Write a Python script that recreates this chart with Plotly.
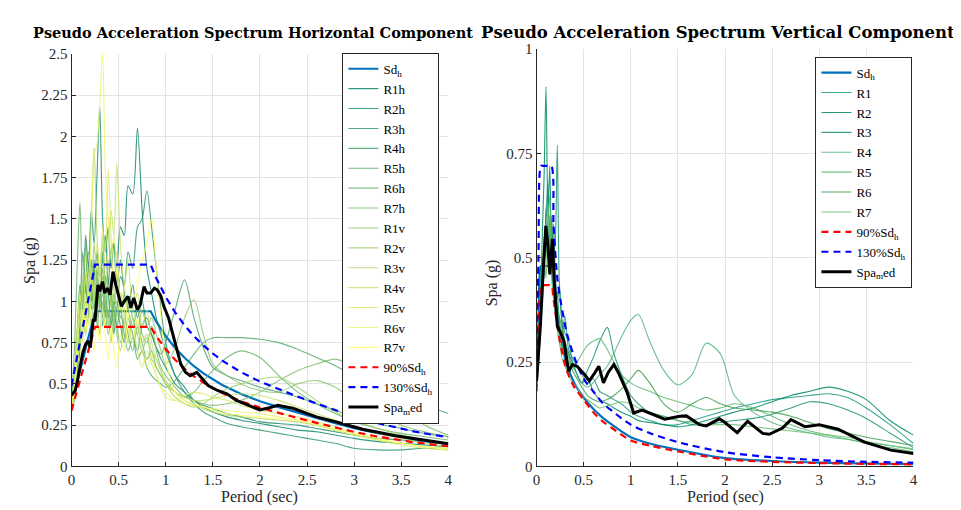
import plotly.graph_objects as go

# ---------------- LEFT: horizontal component ----------------
T_L = [0, 0.03, 0.06, 0.09, 0.12, 0.15, 0.18, 0.21, 0.24, 0.27, 0.30, 0.33, 0.36, 0.39, 0.42,
       0.45, 0.48, 0.52, 0.56, 0.60, 0.65, 0.70, 0.75, 0.80, 0.85, 0.90, 0.95, 1.0, 1.1, 1.2,
       1.3, 1.4, 1.5, 1.65, 1.8, 2.0, 2.2, 2.4, 2.6, 2.8, 3.0, 3.25, 3.5, 3.75, 4.0]

R1h = [0.40, 0.45, 0.60, 0.85, 0.95, 1.10, 0.90, 1.20, 1.05, 1.30, 1.15, 1.25, 1.40, 1.10, 1.30,
       1.35, 1.20, 1.45, 1.40, 1.70, 1.65, 2.05, 1.55, 1.20, 1.05, 0.90, 0.80, 0.70, 0.55, 0.48,
       0.40, 0.36, 0.33, 0.30, 0.28, 0.26, 0.24, 0.22, 0.21, 0.19, 0.17, 0.15, 0.14, 0.13, 0.12]
R2h = [0.38, 0.42, 0.75, 1.10, 0.95, 1.40, 1.20, 1.55, 1.35, 1.75, 2.18, 1.50, 1.30, 1.45, 1.20,
       1.35, 1.10, 1.25, 1.05, 0.95, 1.10, 0.90, 1.00, 0.85, 0.80, 0.72, 0.65, 0.60, 0.50, 0.45,
       0.40, 0.37, 0.35, 0.32, 0.30, 0.27, 0.26, 0.25, 0.23, 0.21, 0.19, 0.17, 0.16, 0.15, 0.14]
R3h = [0.36, 0.40, 0.55, 0.70, 0.90, 0.80, 1.05, 0.95, 1.20, 1.00, 1.10, 0.90, 1.15, 1.05, 0.85,
       1.00, 0.95, 1.15, 1.10, 1.30, 1.20, 1.45, 1.50, 1.67, 1.45, 1.20, 0.95, 0.75, 0.55, 0.45,
       0.38, 0.33, 0.30, 0.26, 0.24, 0.22, 0.20, 0.18, 0.16, 0.14, 0.11, 0.10, 0.10, 0.11, 0.10]
R4h = [0.42, 0.50, 0.70, 0.95, 1.30, 1.05, 1.20, 1.00, 1.25, 0.95, 1.10, 0.85, 1.00, 0.90, 1.05,
       0.80, 0.95, 0.85, 0.75, 0.90, 0.80, 0.70, 0.85, 0.90, 0.80, 0.72, 0.68, 0.75, 0.95, 1.13,
       0.90, 0.72, 0.60, 0.55, 0.52, 0.48, 0.45, 0.42, 0.38, 0.34, 0.30, 0.26, 0.23, 0.20, 0.18]
R5h = [0.45, 0.55, 0.80, 1.00, 0.85, 1.15, 1.30, 1.10, 0.95, 1.20, 1.00, 1.30, 1.10, 0.90, 1.05,
       0.95, 0.85, 0.95, 0.80, 0.70, 0.78, 0.65, 0.70, 0.60, 0.55, 0.52, 0.50, 0.48, 0.52, 0.60,
       0.68, 0.75, 0.78, 0.78, 0.78, 0.77, 0.75, 0.71, 0.66, 0.61, 0.55, 0.48, 0.42, 0.37, 0.32]
R6h = [0.40, 0.70, 1.20, 1.60, 1.00, 1.35, 0.90, 1.25, 1.05, 0.85, 1.00, 1.20, 0.95, 0.80, 0.90,
       1.05, 0.85, 0.75, 0.90, 0.80, 0.70, 0.85, 0.75, 0.65, 0.70, 0.60, 0.55, 0.50, 0.45, 0.42,
       0.45, 0.52, 0.58, 0.66, 0.70, 0.66, 0.55, 0.45, 0.38, 0.32, 0.27, 0.23, 0.20, 0.18, 0.16]
R7h = [0.38, 0.45, 0.65, 0.80, 1.00, 0.90, 1.10, 1.25, 1.00, 1.15, 0.95, 1.05, 0.90, 1.10, 1.00,
       0.85, 1.00, 0.90, 1.05, 0.95, 0.85, 0.95, 0.80, 0.75, 0.85, 0.70, 0.60, 0.55, 0.48, 0.42,
       0.40, 0.38, 0.37, 0.38, 0.40, 0.45, 0.52, 0.58, 0.62, 0.65, 0.60, 0.48, 0.35, 0.25, 0.19]
R1v = [0.43, 0.55, 0.80, 1.10, 0.90, 1.15, 0.95, 1.05, 1.35, 1.10, 0.95, 1.15, 1.00, 0.85, 1.05,
       0.90, 1.10, 0.95, 0.85, 1.00, 0.90, 0.80, 0.95, 0.85, 0.90, 0.80, 0.70, 0.62, 0.72, 0.90,
       1.01, 0.80, 0.62, 0.55, 0.50, 0.46, 0.45, 0.50, 0.52, 0.48, 0.40, 0.32, 0.25, 0.21, 0.18]
R2v = [0.35, 0.42, 0.60, 0.75, 0.90, 0.80, 1.00, 0.85, 1.10, 0.95, 0.80, 1.00, 0.85, 0.95, 0.75,
       0.90, 0.80, 0.70, 0.85, 0.75, 0.90, 0.80, 0.70, 0.78, 0.65, 0.60, 0.55, 0.50, 0.42, 0.38,
       0.36, 0.38, 0.42, 0.47, 0.50, 0.53, 0.54, 0.48, 0.40, 0.33, 0.28, 0.23, 0.19, 0.16, 0.14]
R3v = [0.40, 0.50, 0.85, 0.70, 1.10, 1.30, 1.15, 1.50, 1.93, 1.40, 1.20, 1.35, 1.05, 1.25, 0.95,
       1.10, 0.90, 1.05, 0.95, 0.80, 0.95, 0.85, 0.75, 0.80, 0.70, 0.65, 0.58, 0.52, 0.45, 0.40,
       0.37, 0.35, 0.33, 0.31, 0.30, 0.29, 0.28, 0.27, 0.25, 0.22, 0.19, 0.16, 0.14, 0.12, 0.11]
R4v = [0.37, 0.45, 0.70, 0.95, 0.80, 1.00, 0.90, 1.15, 1.00, 1.25, 1.10, 1.40, 1.20, 1.35, 1.55,
       1.40, 1.83, 1.35, 1.10, 1.25, 0.95, 1.05, 0.85, 0.95, 0.75, 0.65, 0.58, 0.50, 0.45, 0.42,
       0.40, 0.40, 0.41, 0.43, 0.44, 0.43, 0.40, 0.36, 0.32, 0.28, 0.24, 0.20, 0.17, 0.14, 0.12]
R5v = [0.34, 0.40, 0.65, 0.90, 0.75, 1.05, 0.85, 1.20, 1.05, 1.35, 1.15, 1.45, 1.30, 1.80, 1.40,
       1.10, 1.30, 1.00, 0.90, 0.75, 0.85, 0.70, 0.60, 0.70, 0.62, 0.55, 0.48, 0.42, 0.40, 0.43,
       0.45, 0.44, 0.42, 0.40, 0.37, 0.34, 0.32, 0.30, 0.27, 0.24, 0.20, 0.16, 0.13, 0.11, 0.10]
R6v = [0.36, 0.45, 0.75, 1.05, 0.85, 1.20, 1.00, 1.39, 1.89, 1.95, 2.20, 2.50, 1.77, 1.50, 1.25,
       1.40, 1.15, 0.95, 1.10, 0.85, 0.75, 0.90, 0.70, 0.60, 0.68, 0.55, 0.48, 0.45, 0.40, 0.38,
       0.37, 0.36, 0.35, 0.34, 0.33, 0.32, 0.30, 0.28, 0.25, 0.22, 0.19, 0.16, 0.14, 0.12, 0.11]
R7v = [0.39, 0.48, 0.72, 0.60, 0.95, 0.80, 1.05, 0.90, 0.70, 0.85, 0.75, 0.95, 0.80, 0.65, 0.85,
       0.70, 0.60, 0.80, 0.70, 0.90, 1.00, 1.10, 1.25, 1.35, 1.50, 1.20, 0.90, 0.65, 0.45, 0.40,
       0.38, 0.36, 0.34, 0.32, 0.31, 0.30, 0.29, 0.28, 0.26, 0.23, 0.20, 0.17, 0.14, 0.12, 0.10]

T_DH = [0, 0.25, 0.84, 0.9, 1.0, 1.1, 1.2, 1.3, 1.4, 1.5, 1.6, 1.8, 2.0, 2.2, 2.4, 2.6, 2.8,
        3.0, 3.2, 3.4, 3.6, 3.8, 4.0]
Sd_h = [0.376, 0.94, 0.94, 0.877, 0.79, 0.718, 0.658, 0.607, 0.564, 0.526, 0.493, 0.439, 0.395,
        0.359, 0.325, 0.293, 0.262, 0.232, 0.207, 0.185, 0.166, 0.15, 0.136]
Sd_h90 = [0.338, 0.846, 0.846, 0.789, 0.711, 0.646, 0.592, 0.546, 0.508, 0.473, 0.444, 0.395,
          0.356, 0.323, 0.293, 0.264, 0.236, 0.209, 0.186, 0.167, 0.149, 0.135, 0.122]
Sd_h130 = [0.489, 1.222, 1.222, 1.14, 1.027, 0.933, 0.855, 0.789, 0.733, 0.684, 0.641, 0.571,
           0.514, 0.467, 0.423, 0.381, 0.341, 0.302, 0.269, 0.241, 0.216, 0.195, 0.177]

T_MH = [0, 0.04, 0.07, 0.1, 0.12, 0.15, 0.175, 0.2, 0.23, 0.25, 0.28, 0.3, 0.33, 0.35, 0.38,
        0.41, 0.44, 0.47, 0.5, 0.53, 0.56, 0.6, 0.63, 0.66, 0.7, 0.73, 0.77, 0.8, 0.84, 0.88,
        0.91, 0.95, 0.98, 1.03, 1.09, 1.16, 1.21, 1.26, 1.33, 1.45, 1.55, 1.65, 1.75, 1.88, 2.0,
        2.1, 2.19, 2.35, 2.6, 2.81, 3.09, 3.44, 3.65, 3.85, 4.0]
Spa_med_h = [0.43, 0.46, 0.54, 0.62, 0.69, 0.74, 0.76, 0.72, 0.89, 0.88, 1.10, 1.06, 1.12, 1.05,
             1.08, 1.04, 1.18, 1.10, 1.04, 0.97, 1.00, 1.03, 0.96, 1.02, 0.95, 0.98, 1.09, 1.05,
             1.05, 1.08, 1.07, 1.03, 0.97, 0.90, 0.77, 0.62, 0.57, 0.55, 0.57, 0.49, 0.46, 0.44,
             0.40, 0.37, 0.342, 0.355, 0.37, 0.352, 0.30, 0.27, 0.225, 0.186, 0.166, 0.15, 0.137]

# ---------------- RIGHT: vertical component ----------------
T_R = [0, 0.02, 0.04, 0.06, 0.08, 0.10, 0.12, 0.14, 0.16, 0.18, 0.20, 0.22, 0.24, 0.27, 0.30,
       0.34, 0.38, 0.43, 0.48, 0.54, 0.60, 0.67, 0.75, 0.82, 0.90, 1.0, 1.08, 1.2, 1.35, 1.5,
       1.65, 1.8, 1.95, 2.1, 2.3, 2.5, 2.7, 2.9, 3.1, 3.3, 3.5, 3.75, 4.0]
R1 = [0.21, 0.26, 0.35, 0.45, 0.52, 0.60, 0.68, 0.50, 0.55, 0.45, 0.40, 0.42, 0.35, 0.32, 0.36,
      0.28, 0.26, 0.24, 0.22, 0.20, 0.21, 0.18, 0.17, 0.16, 0.15, 0.13, 0.12, 0.11, 0.10, 0.10,
      0.11, 0.12, 0.13, 0.14, 0.15, 0.16, 0.165, 0.17, 0.174, 0.165, 0.14, 0.10, 0.055]
R2 = [0.20, 0.28, 0.40, 0.55, 0.70, 0.91, 0.60, 0.72, 0.50, 0.58, 0.45, 0.40, 0.43, 0.34, 0.30,
      0.27, 0.25, 0.22, 0.20, 0.21, 0.18, 0.16, 0.15, 0.14, 0.13, 0.12, 0.11, 0.105, 0.10, 0.095,
      0.10, 0.11, 0.12, 0.13, 0.14, 0.155, 0.17, 0.18, 0.19, 0.18, 0.16, 0.11, 0.075]
R3 = [0.22, 0.27, 0.38, 0.50, 0.45, 0.62, 0.55, 0.48, 0.60, 0.50, 0.55, 0.77, 0.45, 0.35, 0.32,
      0.30, 0.25, 0.22, 0.20, 0.23, 0.26, 0.30, 0.333, 0.27, 0.22, 0.17, 0.15, 0.13, 0.12, 0.11,
      0.10, 0.10, 0.105, 0.11, 0.115, 0.125, 0.14, 0.155, 0.15, 0.135, 0.115, 0.08, 0.045]
R4 = [0.20, 0.25, 0.33, 0.42, 0.50, 0.55, 0.62, 0.52, 0.45, 0.40, 0.36, 0.33, 0.30, 0.28, 0.30,
      0.26, 0.24, 0.22, 0.20, 0.19, 0.20, 0.22, 0.24, 0.27, 0.31, 0.35, 0.364, 0.30, 0.23, 0.195,
      0.22, 0.295, 0.27, 0.17, 0.13, 0.105, 0.09, 0.08, 0.07, 0.065, 0.058, 0.05, 0.042]
R5 = [0.22, 0.28, 0.40, 0.48, 0.55, 0.50, 0.58, 0.65, 0.48, 0.42, 0.38, 0.35, 0.32, 0.30, 0.27,
      0.25, 0.24, 0.25, 0.27, 0.29, 0.30, 0.306, 0.28, 0.25, 0.22, 0.20, 0.19, 0.18, 0.165, 0.155,
      0.145, 0.135, 0.14, 0.15, 0.14, 0.12, 0.10, 0.085, 0.075, 0.065, 0.055, 0.045, 0.035]
R6 = [0.20, 0.24, 0.32, 0.40, 0.48, 0.56, 0.50, 0.60, 0.52, 0.46, 0.42, 0.38, 0.36, 0.33, 0.29,
      0.27, 0.23, 0.21, 0.19, 0.17, 0.16, 0.155, 0.16, 0.17, 0.185, 0.21, 0.23, 0.20, 0.15, 0.13,
      0.15, 0.165, 0.15, 0.14, 0.135, 0.13, 0.12, 0.105, 0.09, 0.08, 0.07, 0.06, 0.05]
R7 = [0.23, 0.30, 0.42, 0.38, 0.50, 0.45, 0.56, 0.60, 0.50, 0.44, 0.37, 0.33, 0.30, 0.26, 0.24,
      0.22, 0.20, 0.19, 0.17, 0.16, 0.15, 0.14, 0.145, 0.15, 0.155, 0.15, 0.14, 0.13, 0.12, 0.11,
      0.105, 0.10, 0.10, 0.10, 0.095, 0.09, 0.085, 0.08, 0.075, 0.07, 0.06, 0.05, 0.04]

T_DV = [0, 0.02, 0.045, 0.06, 0.10, 0.155, 0.18, 0.22, 0.26, 0.32, 0.4, 0.5, 0.6, 0.7, 0.8,
        1.0, 1.2, 1.5, 2.0, 2.5, 3.0, 3.5, 4.0]
Sd_v = [0.197, 0.35, 0.48, 0.48, 0.48, 0.48, 0.43, 0.36, 0.305, 0.245, 0.20, 0.165, 0.138,
        0.117, 0.10, 0.07, 0.055, 0.04, 0.02, 0.013, 0.009, 0.007, 0.0055]
Sd_v90 = [0.18, 0.32, 0.434, 0.434, 0.434, 0.434, 0.40, 0.336, 0.285, 0.23, 0.19, 0.16, 0.13,
          0.108, 0.092, 0.062, 0.05, 0.036, 0.017, 0.011, 0.008, 0.006, 0.005]
Sd_v130 = [0.26, 0.50, 0.72, 0.72, 0.72, 0.72, 0.58, 0.45, 0.39, 0.32, 0.262, 0.21, 0.18, 0.152,
           0.133, 0.10, 0.08, 0.058, 0.034, 0.022, 0.015, 0.011, 0.009]

T_MV = [0, 0.04, 0.07, 0.098, 0.12, 0.14, 0.168, 0.186, 0.22, 0.256, 0.29, 0.34, 0.38, 0.43,
        0.52, 0.56, 0.62, 0.66, 0.71, 0.76, 0.82, 0.87, 0.96, 1.03, 1.12, 1.2, 1.36, 1.52, 1.59,
        1.73, 1.8, 1.94, 2.0, 2.13, 2.24, 2.4, 2.47, 2.61, 2.7, 2.85, 3.0, 3.2, 3.48, 3.76, 4.0]
Spa_med_v = [0.205, 0.336, 0.468, 0.576, 0.53, 0.46, 0.545, 0.45, 0.336, 0.32, 0.30, 0.228,
             0.244, 0.24, 0.217, 0.205, 0.225, 0.24, 0.20, 0.225, 0.244, 0.224, 0.178, 0.128,
             0.135, 0.128, 0.113, 0.12, 0.121, 0.10, 0.097, 0.114, 0.105, 0.081, 0.108, 0.079,
             0.077, 0.092, 0.112, 0.095, 0.10, 0.089, 0.058, 0.039, 0.031]

rec_h_names = ["R1h", "R2h", "R3h", "R4h", "R5h", "R6h", "R7h",
               "R1v", "R2v", "R3v", "R4v", "R5v", "R6v", "R7v"]
rec_h_vals = [R1h, R2h, R3h, R4h, R5h, R6h, R7h, R1v, R2v, R3v, R4v, R5v, R6v, R7v]
rec_h_colors = ["#008066", "#148966", "#279366", "#3b9d66", "#4ea766", "#62b166", "#76ba66",
                "#89c466", "#9dce66", "#b1d866", "#c4e266", "#d8eb66", "#ebf566", "#ffff66"]

rec_v_names = ["R1", "R2", "R3", "R4", "R5", "R6", "R7"]
rec_v_vals = [R1, R2, R3, R4, R5, R6, R7]
rec_v_colors = ["#1f9a82", "#008a62", "#1d9570", "#55b57e", "#5cb872", "#3a9e4e", "#6cc070"]

SERIF = "Liberation Serif, Times New Roman, Times, serif"
DASH = "7px,5px"

fig = go.Figure()


def line(x, y, name, color, width, axes, legend, dash="solid", shape="linear", opacity=1.0):
    xa, ya = axes
    fig.add_trace(go.Scatter(
        x=x, y=y, name=name, mode="lines", xaxis=xa, yaxis=ya, legend=legend,
        opacity=opacity,
        line=dict(color=color, width=width, dash=dash, shape=shape,
                  smoothing=0.8 if shape == "spline" else None)))


# left panel
line(T_DH, Sd_h, "Sd<sub>h</sub>", "#0072BD", 2.2, ("x", "y"), "legend")
for nm, vals, c in zip(rec_h_names, rec_h_vals, rec_h_colors):
    line(T_L, vals, nm, c, 1.1, ("x", "y"), "legend", shape="spline", opacity=0.8)
line(T_DH, Sd_h90, "90%Sd<sub>h</sub>", "#FF0000", 2.2, ("x", "y"), "legend", dash=DASH)
line(T_DH, Sd_h130, "130%Sd<sub>h</sub>", "#0000FF", 2.2, ("x", "y"), "legend", dash=DASH)
line(T_MH, Spa_med_h, "Spa<sub>m</sub>ed", "#000000", 3, ("x", "y"), "legend")

# right panel
line(T_DV, Sd_v, "Sd<sub>h</sub>", "#0072BD", 2.2, ("x2", "y2"), "legend2", shape="spline")
for nm, vals, c in zip(rec_v_names, rec_v_vals, rec_v_colors):
    line(T_R, vals, nm, c, 1.1, ("x2", "y2"), "legend2", shape="spline", opacity=0.85)
line(T_DV, Sd_v90, "90%Sd<sub>h</sub>", "#FF0000", 2.2, ("x2", "y2"), "legend2", dash=DASH, shape="spline")
line(T_DV, Sd_v130, "130%Sd<sub>h</sub>", "#0000FF", 2.2, ("x2", "y2"), "legend2", dash=DASH, shape="spline")
line(T_MV, Spa_med_v, "Spa<sub>m</sub>ed", "#000000", 3, ("x2", "y2"), "legend2")

W, H = 961, 510
tickfont = dict(family=SERIF, size=15, color="#262626")
axcommon = dict(showline=True, linecolor="#262626", linewidth=1, mirror=False,
                showgrid=True, gridcolor="#e3e3e3", gridwidth=1, zeroline=False,
                ticks="inside", ticklen=4, tickcolor="#262626", tickfont=tickfont)

xt = [0, 0.5, 1, 1.5, 2, 2.5, 3, 3.5, 4]
xtt = ["0", "0.5", "1", "1.5", "2", "2.5", "3", "3.5", "4"]
yl = [0, 0.25, 0.5, 0.75, 1, 1.25, 1.5, 1.75, 2, 2.25, 2.5]
ylt = ["0", "0.25", "0.5", "0.75", "1", "1.25", "1.5", "1.75", "2", "2.25", "2.5"]
yr = [0, 0.25, 0.5, 0.75, 1]
yrt = ["0", "0.25", "0.5", "0.75", "1"]

legend_common = dict(bgcolor="white", bordercolor="#262626", borderwidth=1,
                     font=dict(family=SERIF, size=13, color="#000000"),
                     itemwidth=30, tracegroupgap=0, yanchor="top", xanchor="right")

fig.update_layout(
    width=W, height=H, paper_bgcolor="white", plot_bgcolor="white",
    margin=dict(l=0, r=0, t=0, b=0), showlegend=True,
    xaxis=dict(domain=[60 / W, 440 / W], range=[0, 4], anchor="y",
               tickvals=xt, ticktext=xtt, **axcommon),
    yaxis=dict(domain=[45 / H, 471 / H], range=[0, 2.5], anchor="x",
               tickvals=yl, ticktext=ylt, **axcommon),
    xaxis2=dict(domain=[529 / W, 909 / W], range=[0, 4], anchor="y2",
                tickvals=xt, ticktext=xtt, **axcommon),
    yaxis2=dict(domain=[45 / H, 476 / H], range=[0, 1], anchor="x2",
                tickvals=yr, ticktext=yrt, **axcommon),
    legend=dict(x=431 / W, y=1 - 38 / H, **legend_common),
    legend2=dict(x=908 / W, y=1 - 42 / H, **legend_common),
)

labfont = dict(family=SERIF, size=16, color="#262626")
ann = [
    dict(text="<b>Pseudo Acceleration Spectrum Horizontal Component</b>", x=243 / W, y=1 - 17 / H,
         font=dict(family="DejaVu Serif", size=14.5, color="#000000")),
    dict(text="<b>Pseudo Acceleration Spectrum Vertical Component</b>", x=712 / W, y=1 - 17 / H,
         font=dict(family="DejaVu Serif", size=16.5, color="#000000")),
    dict(text="Period (sec)", x=250 / W, y=1 - 497 / H, font=labfont),
    dict(text="Period (sec)", x=719 / W, y=1 - 497 / H, font=labfont),
    dict(text="Spa (g)", x=18 / W, y=1 - 252 / H, font=labfont, textangle=-90),
    dict(text="Spa (g)", x=484 / W, y=1 - 275 / H, font=labfont, textangle=-90),
]
for a in ann:
    fig.add_annotation(xref="paper", yref="paper", showarrow=False, xanchor="center",
                       yanchor="middle", **a)

fig.write_html("out.html")
